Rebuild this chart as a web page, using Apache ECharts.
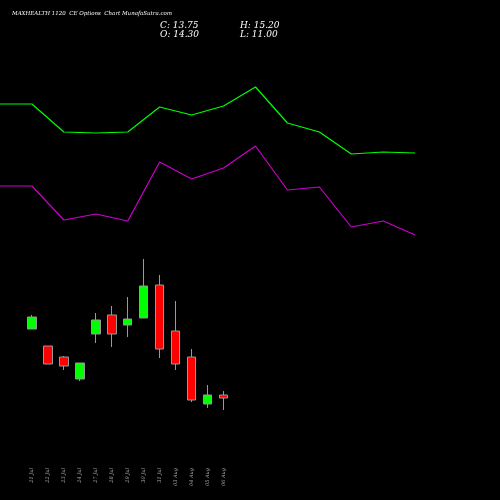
<!DOCTYPE html><html><head><meta charset="utf-8">
<script src="https://cdn.jsdelivr.net/npm/echarts@6/dist/echarts.min.js"></script>
<style>html,body{margin:0;background:#000}#c{width:500px;height:500px}</style></head><body><div id="c"></div>
<script>
const dates=['21 Jul','22 Jul','23 Jul','24 Jul','27 Jul','28 Jul','29 Jul','30 Jul','31 Jul','03 Aug','04 Aug','05 Aug','06 Aug'];
// [open, close, low, high]
const candles=[[171,183,171,185],[154,136,136,154],[143,134,130,144],[121,137,119,137],[166,180,157,187],[185,166,153,194],[175,181,163,203],[182,214,182,241],[215,151,142,225],[169,136,130,199],[143,100,98,151],[96,105,92,115],[105,102,90,109]];
const upperBand=[396,396,368,367,368,393,385,394,413,377,368,346,348,347];
const lowerBand=[314,314,280,286,279,338,321,332,354,310,313,273,279,265];
const N=32;
const cats=[];for(let i=0;i<N;i++){cats.push(i>=2&&i<2+dates.length?dates[i-2]:'');}
const candleData=cats.map((c,i)=>i>=2&&i<2+candles.length?candles[i-2]:'-');
const up=cats.map((c,i)=>{const k=i/2;return Number.isInteger(k)&&k<upperBand.length?upperBand[k]:'-';});
const lo=cats.map((c,i)=>{const k=i/2;return Number.isInteger(k)&&k<lowerBand.length?lowerBand[k]:'-';});
const ch=echarts.init(document.getElementById('c'));
ch.setOption({backgroundColor:'#000',animation:false,
graphic:[
{type:'text',left:12,top:11,style:{text:'MAXHEALTH 1120  CE Options  Chart MunafaSutra.com',fill:'#fff',font:'italic 5.5px "DejaVu Serif"'}},
{type:'text',left:160,top:21,style:{text:'C: 13.75\nO: 14.30',fill:'#fff',font:'italic 9px "DejaVu Serif"',lineHeight:9}},
{type:'text',left:240,top:21,style:{text:'H: 15.20\nL: 11.00',fill:'#fff',font:'italic 9px "DejaVu Serif"',lineHeight:9}}],
grid:{left:-1,right:5,top:0,bottom:35},
xAxis:{type:'category',data:cats,boundaryGap:false,axisLine:{show:false},axisTick:{show:false},splitLine:{show:false},
 axisLabel:{interval:0,rotate:90,margin:3,color:'#aaa',fontSize:5,fontStyle:'italic',fontFamily:'DejaVu Serif'}},
yAxis:{type:'value',min:35,max:500,show:false,splitLine:{show:false}},
series:[
{type:'line',data:up,connectNulls:true,symbol:'none',lineStyle:{color:'#00ff00',width:1.2}},
{type:'line',data:lo,connectNulls:true,symbol:'none',lineStyle:{color:'#cc00cc',width:1.2}},
{type:'candlestick',data:candleData,barWidth:9,itemStyle:{color:'#00ff00',color0:'#ff0000',borderColor:'#999',borderColor0:'#999',borderWidth:1}}
]});
</script></body></html>
